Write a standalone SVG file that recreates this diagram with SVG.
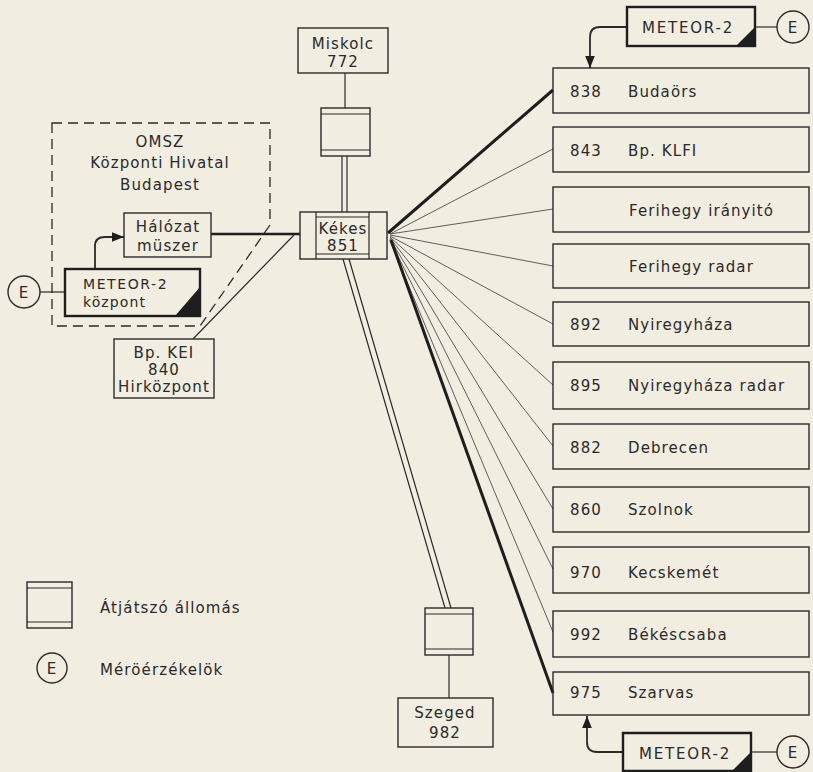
<svg xmlns="http://www.w3.org/2000/svg" width="813" height="772" viewBox="0 0 813 772">
<defs>
<style>
.bg{fill:#f2ede1}
.box{fill:none;stroke:#2a2a2a;stroke-width:1.4}
.tbox{fill:none;stroke:#1e1e1e;stroke-width:2.4}
.ln{fill:none;stroke:#2a2a2a;stroke-width:1.2}
.thin{fill:none;stroke:#3a3a3a;stroke-width:0.8}
.thick{fill:none;stroke:#1e1e1e;stroke-width:3}
.dash{fill:none;stroke:#2a2a2a;stroke-width:1.3;stroke-dasharray:10 6}
text{font-family:"DejaVu Sans","Liberation Sans",sans-serif;font-size:15px;fill:#2a2a2a;letter-spacing:1.1px}
.c{text-anchor:middle}
.tri{fill:#1e1e1e}
</style>
<marker id="ah2" viewBox="0 0 10 10" refX="10" refY="5" markerWidth="12" markerHeight="12" orient="auto" markerUnits="userSpaceOnUse">
<path d="M0,1 L10,5 L0,9 Z" fill="#1e1e1e"/>
</marker>
</defs>
<rect class="bg" x="0" y="0" width="813" height="772"/>

<g id="connectors">
<path class="thick" d="M388,233 L553,90"/>
<path class="thin" d="M390,234 L553,149"/>
<path class="thin" d="M390,234 L553,209"/>
<path class="thin" d="M390,235 L553,266"/>
<path class="thin" d="M390,236 L553,324"/>
<path class="thin" d="M390,237 L553,385"/>
<path class="thin" d="M390,238 L553,446"/>
<path class="thin" d="M390,239 L553,509"/>
<path class="thin" d="M390,240 L553,569"/>
<path class="thin" d="M390,241 L553,632"/>
<path class="thick" d="M391,240 L553,693"/>
<path class="ln" d="M345,73 V108"/>
<path class="ln" d="M342,156 V212 M347,156 V212"/>
<path class="ln" d="M343,259 L445,608 M349,259 L451,608"/>
<path class="ln" d="M449,655 V698"/>
<path class="thick" d="M211,234 H300" style="stroke-width:2.6"/>
<path class="ln" d="M193,339 L294,235"/>
<path class="ln" d="M40,292 H65"/>
<path class="ln" d="M95,269 V246 Q95,237 105,237 H124" style="stroke-width:1.8" marker-end="url(#ah2)"/>
<path class="ln" d="M627,27 H600 Q590,27 590,37 V68" style="stroke-width:1.8" marker-end="url(#ah2)"/>
<path class="ln" d="M755,27 H777"/>
<path class="ln" d="M623,752 H597 Q587,752 587,742 V716" style="stroke-width:1.8" marker-end="url(#ah2)"/>
<path class="ln" d="M751,752 H777"/>
</g>

<g id="omsz">
<path class="dash" d="M52,123 H270 V225 L200,326 H52 Z"/>
<text class="c" x="160" y="147">OMSZ</text>
<text class="c" x="160" y="168">Központi Hivatal</text>
<text class="c" x="160" y="190">Budapest</text>
</g>

<g id="halozat">
<rect class="box" x="124" y="213" width="87" height="44"/>
<text class="c" x="168" y="232">Hálózat</text>
<text class="c" x="168" y="251">müszer</text>
</g>

<g id="meteor-kozpont">
<rect class="tbox" x="65" y="269" width="135" height="47"/>
<path class="tri" d="M200,287 L200,316 L175,316 Z"/>
<text x="83" y="289" style="font-size:14px;letter-spacing:1.6px">METEOR-2</text>
<text x="83" y="307" style="font-size:14px">központ</text>
</g>

<g id="e-left">
<circle class="box" cx="24" cy="292" r="16"/>
<text class="c" x="24" y="298">E</text>
</g>

<g id="bpkei">
<rect class="box" x="114" y="339" width="100" height="59"/>
<text class="c" x="164" y="358">Bp. KEI</text>
<text class="c" x="164" y="375">840</text>
<text class="c" x="164" y="392">Hirközpont</text>
</g>

<g id="miskolc">
<rect class="box" x="298" y="28" width="90" height="45"/>
<text class="c" x="343" y="49">Miskolc</text>
<text class="c" x="343" y="67">772</text>
</g>

<g id="relay-miskolc">
<rect class="box" x="321" y="108" width="49" height="48"/>
<path class="ln" d="M321,114 H370 M321,150 H370"/>
</g>

<g id="kekes">
<rect class="box" x="300" y="212" width="87" height="47"/>
<path class="ln" d="M316,212 V259 M369,212 V259 M316,217 H369 M316,254 H369"/>
<text class="c" x="343" y="234">Kékes</text>
<text class="c" x="343" y="251">851</text>
</g>

<g id="relay-szeged">
<rect class="box" x="425" y="608" width="48" height="47"/>
<path class="ln" d="M425,614 H473 M425,649 H473"/>
</g>

<g id="szeged">
<rect class="box" x="398" y="698" width="95" height="49"/>
<text class="c" x="445" y="718">Szeged</text>
<text class="c" x="445" y="738">982</text>
</g>

<g id="meteor-top">
<rect class="tbox" x="627" y="7" width="128" height="39"/>
<path class="tri" d="M755,27 L755,46 L736,46 Z"/>
<text class="c" x="688" y="33" style="letter-spacing:1.8px">METEOR-2</text>
</g>
<g id="e-top">
<circle class="box" cx="793" cy="27" r="16"/>
<text class="c" x="793" y="33">E</text>
</g>

<g id="meteor-bottom">
<path class="tbox" d="M623,771 V733 H751 V771 Z"/>
<path class="tri" d="M751,752 L751,772 L731,772 Z"/>
<text class="c" x="685" y="759" style="letter-spacing:1.8px">METEOR-2</text>
</g>
<g id="e-bottom">
<circle class="box" cx="793" cy="752" r="16"/>
<text class="c" x="793" y="758">E</text>
</g>

<g id="st838"><rect class="box" x="553" y="68" width="256" height="45"/><text x="570" y="97">838</text><text x="628" y="97">Budaörs</text></g>
<g id="st843"><rect class="box" x="553" y="127" width="256" height="45"/><text x="570" y="156">843</text><text x="628" y="156">Bp. KLFI</text></g>
<g id="stferi"><rect class="box" x="553" y="187" width="256" height="45"/><text x="629" y="216">Ferihegy irányitó</text></g>
<g id="stferiradar"><rect class="box" x="553" y="244" width="256" height="44"/><text x="629" y="272">Ferihegy radar</text></g>
<g id="st892"><rect class="box" x="553" y="302" width="256" height="44"/><text x="570" y="330">892</text><text x="628" y="330">Nyiregyháza</text></g>
<g id="st895"><rect class="box" x="553" y="362" width="256" height="47"/><text x="570" y="391">895</text><text x="628" y="391">Nyiregyháza radar</text></g>
<g id="st882"><rect class="box" x="553" y="424" width="256" height="45"/><text x="570" y="453">882</text><text x="628" y="453">Debrecen</text></g>
<g id="st860"><rect class="box" x="553" y="487" width="256" height="45"/><text x="570" y="515">860</text><text x="628" y="515">Szolnok</text></g>
<g id="st970"><rect class="box" x="553" y="547" width="256" height="46"/><text x="570" y="578">970</text><text x="628" y="578">Kecskemét</text></g>
<g id="st992"><rect class="box" x="553" y="611" width="256" height="46"/><text x="570" y="640">992</text><text x="628" y="640">Békéscsaba</text></g>
<g id="st975"><rect class="box" x="553" y="672" width="256" height="43"/><text x="570" y="698">975</text><text x="628" y="698">Szarvas</text></g>

<g id="legend">
<rect class="box" x="27" y="582" width="45" height="46"/>
<path class="ln" d="M27,588 H72 M27,622 H72"/>
<text x="100" y="613">Átjátszó állomás</text>
<circle class="box" cx="52" cy="668" r="15"/>
<text class="c" x="52" y="674">E</text>
<text x="100" y="675">Méröérzékelök</text>
</g>
</svg>
